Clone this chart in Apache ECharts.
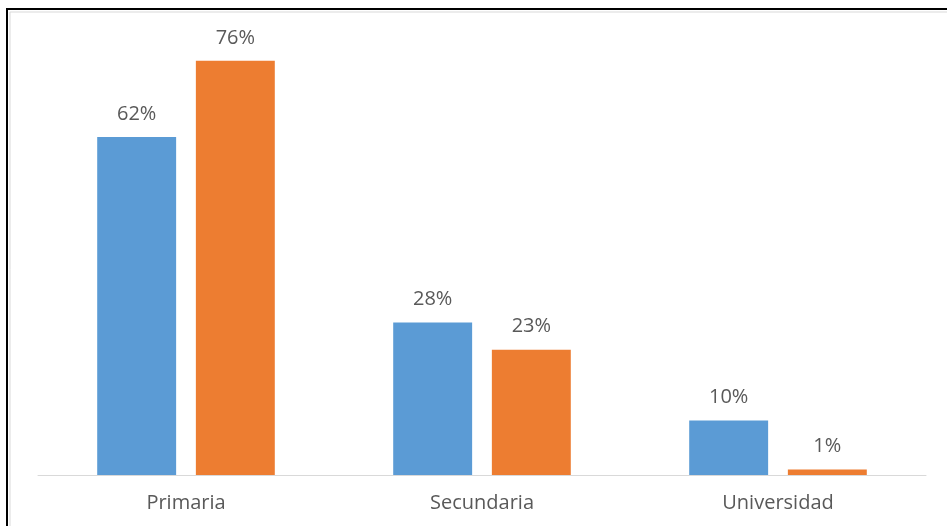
<!DOCTYPE html>
<html>
<head>
<meta charset="utf-8">
<style>
  html, body { margin: 0; padding: 0; background: #fff; }
  #chart { width: 947px; height: 526px; }
</style>
<script src="https://cdn.jsdelivr.net/npm/echarts@6/dist/echarts.min.js"></script>
</head>
<body>
<div id="chart"></div>
<script>
// data (percent)
var categories = ['Primaria', 'Secundaria', 'Universidad']
var serieA = [62, 28, 10]
var serieB = [76, 23, 1]

var chart = echarts.init(document.getElementById('chart'))

var labelStyle = {
  show: true,
  position: 'top',
  distance: 13,
  formatter: '{c}%',
  color: '#595959',
  fontSize: 20,
  fontFamily: 'Open Sans'
}

chart.setOption({
  animation: false,
  grid: { left: 38, right: 21, top: 39, bottom: 51 },
  graphic: [
    {
      type: 'rect',
      shape: { x: 7, y: 9, width: 980, height: 560 },
      style: { fill: 'none', stroke: '#000', lineWidth: 2 }
    },
    {
      type: 'rect',
      shape: { x: 10, y: 12, width: 980, height: 560 },
      style: { fill: 'none', stroke: '#d9d9d9', lineWidth: 1 }
    }
  ],
  xAxis: {
    type: 'category',
    data: categories,
    axisTick: { show: false },
    axisLine: { lineStyle: { color: '#d9d9d9', width: 1 } },
    axisLabel: {
      color: '#595959',
      fontSize: 20,
      fontFamily: 'Open Sans',
      margin: 18
    }
  },
  yAxis: {
    type: 'value',
    min: 0,
    max: 80,
    show: false,
    splitLine: { show: false }
  },
  series: [
    {
      name: 'A',
      type: 'bar',
      data: serieA,
      barGap: '25%',
      barCategoryGap: '40%',
      itemStyle: { color: '#5B9BD5' },
      label: labelStyle
    },
    {
      name: 'B',
      type: 'bar',
      data: serieB,
      itemStyle: { color: '#ED7D31' },
      label: labelStyle
    }
  ]
})
</script>
</body>
</html>
